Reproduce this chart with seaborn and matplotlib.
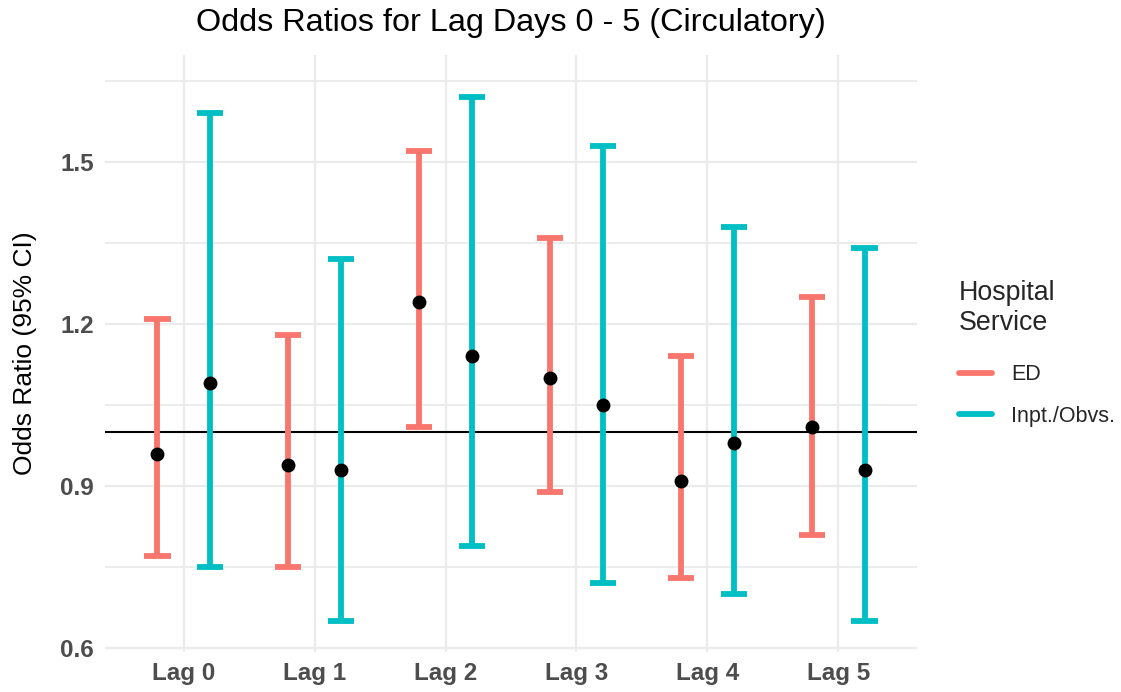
import numpy as np
import pandas as pd
import matplotlib
matplotlib.use("Agg")
import matplotlib.pyplot as plt
from matplotlib.lines import Line2D
from matplotlib.ticker import FixedLocator
import seaborn as sns

# Odds ratios with 95% confidence intervals by lag day and hospital service
lags = ["Lag 0", "Lag 1", "Lag 2", "Lag 3", "Lag 4", "Lag 5"]
services = ["ED", "Inpt./Obvs."]

ed_or = [0.96, 0.94, 1.24, 1.10, 0.91, 1.01]
ed_lo = [0.77, 0.75, 1.01, 0.89, 0.73, 0.81]
ed_hi = [1.21, 1.18, 1.52, 1.36, 1.14, 1.25]

inp_or = [1.09, 0.93, 1.14, 1.05, 0.98, 0.93]
inp_lo = [0.75, 0.65, 0.79, 0.72, 0.70, 0.65]
inp_hi = [1.59, 1.32, 1.62, 1.53, 1.38, 1.34]

palette = {"ED": "#F8766D", "Inpt./Obvs.": "#00BFC4"}

# Long table: each (lag, service) has its lower bound, estimate and upper bound,
# so the median is the estimate and the min/max span the interval.
rows = []
for svc, est, lo, hi in [("ED", ed_or, ed_lo, ed_hi),
                         ("Inpt./Obvs.", inp_or, inp_lo, inp_hi)]:
    for lag, e, l, h in zip(lags, est, lo, hi):
        for v in (l, e, h):
            rows.append({"lag": lag, "service": svc, "value": v})
df = pd.DataFrame(rows)

sns.set_theme(style="whitegrid")
plt.rcParams["font.family"] = ["Liberation Sans", "DejaVu Sans"]

fig = plt.figure(figsize=(11.21, 6.92), dpi=100)
ax = fig.add_axes([0.0937, 0.0578, 0.7243, 0.8627])

# Coloured confidence intervals
sns.pointplot(
    data=df, x="lag", y="value", hue="service", order=lags, hue_order=services,
    estimator="median", errorbar=lambda v: (np.min(v), np.max(v)),
    dodge=0.4, linestyle="none", marker="", capsize=0.2,
    err_kws={"linewidth": 4.2, "solid_capstyle": "butt"},
    palette=palette, legend=False, ax=ax,
)
# Black point estimates
sns.pointplot(
    data=df, x="lag", y="value", hue="service", order=lags, hue_order=services,
    estimator="median", errorbar=None, dodge=0.4, linestyle="none",
    marker="o", markersize=10, markeredgewidth=0,
    palette={"ED": "black", "Inpt./Obvs.": "black"}, legend=False, ax=ax,
)

ax.axhline(1.0, color="black", linewidth=1.5, zorder=1.5)

ax.set_xlim(-0.6, 5.6)
ax.set_ylim(0.593, 1.698)
ax.yaxis.set_major_locator(FixedLocator([0.6, 0.9, 1.2, 1.5]))
ax.yaxis.set_minor_locator(FixedLocator([0.75, 1.05, 1.35, 1.65]))
ax.set_yticklabels(["0.6", "0.9", "1.2", "1.5"])

ax.set_facecolor("white")
for s in ax.spines.values():
    s.set_visible(False)
ax.grid(True, which="major", axis="both", color="#EBEBEB", linewidth=1.6)
ax.grid(True, which="minor", axis="y", color="#EBEBEB", linewidth=1.3)
ax.set_axisbelow(True)

ax.tick_params(axis="both", which="both", length=0)
ax.tick_params(axis="y", pad=8)
ax.tick_params(axis="x", pad=7)
for lbl in ax.get_xticklabels() + ax.get_yticklabels():
    lbl.set_fontsize(17.5)
    lbl.set_fontweight("bold")
    lbl.set_color("#4D4D4D")

ax.set_xlabel("")
ax.set_ylabel("Odds Ratio (95% CI)", fontsize=19, color="black", labelpad=17)
ax.set_title("Odds Ratios for Lag Days 0 - 5 (Circulatory)", fontsize=23.3,
             color="black", pad=17)

handles = [Line2D([0], [0], color=palette[s], linewidth=4.2) for s in services]
leg = ax.legend(handles, services, title="Hospital\nService",
                loc="center left", bbox_to_anchor=(1.028, 0.5),
                frameon=False, fontsize=15.5, title_fontsize=19.3,
                handlelength=1.55, handletextpad=0.85, labelspacing=0.95)
leg._legend_box.align = "left"
leg._legend_box.sep = 20

fig.savefig("out.png", dpi=100, facecolor="white")
